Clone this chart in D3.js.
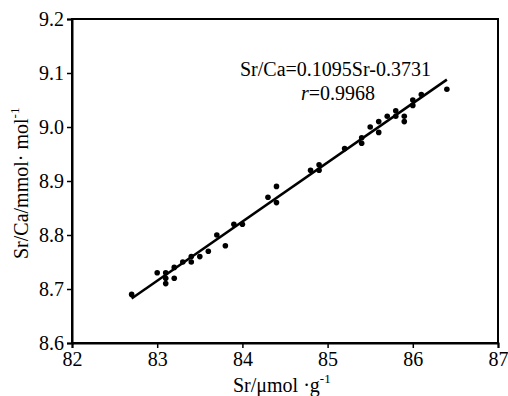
<!DOCTYPE html>
<html>
<head>
<meta charset="utf-8">
<script src="https://cdn.jsdelivr.net/npm/d3@7"></script>
<style>
  html, body { margin: 0; padding: 0; background: #fff; }
  svg { display: block; font-family: "Liberation Serif", "DejaVu Serif", serif; }
</style>
</head>
<body>
<svg id="chart" width="508" height="396"></svg>
<script>
// measured Sr (µmol/g) and Sr/Ca (mmol/mol)
const srValues = [82.7, 83.0, 83.1, 83.1, 83.1, 83.2, 83.2, 83.3, 83.4, 83.4,
  83.5, 83.6, 83.7, 83.8, 83.9, 84.0, 84.3, 84.4, 84.4, 84.8,
  84.9, 84.9, 85.2, 85.4, 85.4, 85.5, 85.6, 85.6, 85.7, 85.8,
  85.8, 85.9, 85.9, 86.0, 86.0, 86.1, 86.4];
const srCaValues = [8.69, 8.73, 8.73, 8.72, 8.71, 8.72, 8.74, 8.75, 8.76, 8.75,
  8.76, 8.77, 8.80, 8.78, 8.82, 8.82, 8.87, 8.89, 8.86, 8.92,
  8.93, 8.92, 8.96, 8.98, 8.97, 9.00, 9.01, 8.99, 9.02, 9.03,
  9.02, 9.02, 9.01, 9.05, 9.04, 9.06, 9.07];

const slope = 0.1095, intercept = -0.3731;
const fitRange = [82.7, 86.4];

const xTicks = [82, 83, 84, 85, 86, 87];
const yTicks = [8.6, 8.7, 8.8, 8.9, 9.0, 9.1, 9.2];

const svg = d3.select("#chart");
const margin = { left: 72, top: 19, right: 10, bottom: 53 };
const W = 508, H = 396;

const x = d3.scaleLinear().domain([82, 87]).range([margin.left, W - margin.right]);
const y = d3.scaleLinear().domain([8.6, 9.2]).range([H - margin.bottom, margin.top]);

// frame
svg.append("rect")
  .attr("x", x(82)).attr("y", y(9.2))
  .attr("width", x(87) - x(82)).attr("height", y(8.6) - y(9.2))
  .attr("fill", "none").attr("stroke", "#000").attr("stroke-width", 2);

// axes
const xAxis = svg.append("g")
  .attr("transform", `translate(0,${y(8.6)})`)
  .call(d3.axisBottom(x).tickValues(xTicks).tickFormat(d3.format("d")).tickSize(5).tickPadding(4));
const yAxis = svg.append("g")
  .attr("transform", `translate(${x(82)},0)`)
  .call(d3.axisLeft(y).tickValues(yTicks).tickFormat(d3.format(".1f")).tickSize(5).tickPadding(3));

[xAxis, yAxis].forEach(a => {
  a.attr("font-family", null).attr("font-size", 20);
  a.select(".domain").attr("stroke-width", 2);
  a.selectAll(".tick line").attr("stroke-width", 1.5);
  a.selectAll(".tick text").attr("fill", "#000");
});

// fit line
svg.append("line")
  .attr("x1", x(fitRange[0])).attr("y1", y(slope * fitRange[0] + intercept))
  .attr("x2", x(fitRange[1])).attr("y2", y(slope * fitRange[1] + intercept))
  .attr("stroke", "#000").attr("stroke-width", 2.5);

// points
svg.append("g")
  .selectAll("circle")
  .data(srValues.map((v, i) => [v, srCaValues[i]]))
  .join("circle")
  .attr("cx", d => x(d[0]))
  .attr("cy", d => y(d[1]))
  .attr("r", 2.8)
  .attr("fill", "#000");

// equation
svg.append("text")
  .attr("x", 240).attr("y", 76)
  .attr("font-size", 20)
  .text("Sr/Ca=0.1095Sr-0.3731");
const rt = svg.append("text")
  .attr("x", 301).attr("y", 100)
  .attr("font-size", 20);
rt.append("tspan").attr("font-style", "italic").text("r");
rt.append("tspan").text("=0.9968");

// axis titles
const xt = svg.append("text")
  .attr("x", 233).attr("y", 392)
  .attr("font-size", 20);
xt.append("tspan").text("Sr/\u03bcmol \u00b7g");
xt.append("tspan").attr("font-size", 13).attr("dy", -9).text("-1");

const yt = svg.append("text")
  .attr("transform", "translate(28,259) rotate(-90)")
  .attr("font-size", 20);
yt.append("tspan").text("Sr/Ca/mmol\u00b7 mol");
yt.append("tspan").attr("font-size", 13).attr("dy", -9).text("-1");
</script>
</body>
</html>
